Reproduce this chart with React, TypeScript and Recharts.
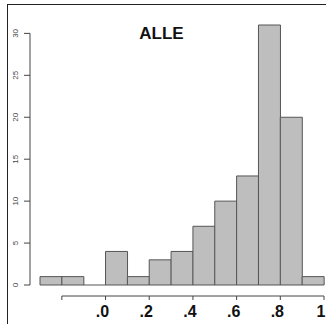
import React from "react";
import { Bar, BarChart, Rectangle, XAxis, YAxis } from "recharts";

// histogram bins (lower edges) and counts
const binStarts = [-0.3, -0.2, -0.1, 0.0, 0.1, 0.2, 0.3, 0.4, 0.5, 0.6, 0.7, 0.8, 0.9];
const counts = [1, 1, 0, 4, 1, 3, 4, 7, 10, 13, 31, 20, 1];
const binWidth = 0.1;
const xTicks = [-0.2, 0, 0.2, 0.4, 0.6, 0.8, 1];
const xTickLabels = ["", ".0", ".2", ".4", ".6", ".8", "1"];
const yTicks = [0, 5, 10, 15, 20, 25, 30];
const title = "ALLE";

const data = binStarts.map((b, i) => ({ bin: b, count: counts[i] }));

const W = 326;
const H = 324;
const margin = { top: 25, right: 2, left: 0, bottom: 0 };
const yAxisWidth = 40;
const xAxisHeight = 39;
const plotW = W - margin.left - margin.right - yAxisWidth;
const plotH = H - margin.top - margin.bottom - xAxisHeight;
const yMax = 31;
const band = plotW / binStarts.length;

const same = (a: number, b: number) => Math.abs(a - b) < 1e-6;

const YTick = (props: any) => {
  const { x, y, payload } = props;
  const ax = x - 10;
  const unit = plotH / yMax;
  return (
    <g>
      <line x1={ax} x2={ax - 6} y1={y} y2={y} stroke="#444" strokeWidth={1} />
      {payload.value === yTicks[0] && (
        <line
          x1={ax}
          x2={ax}
          y1={y}
          y2={y - (yTicks[yTicks.length - 1] - yTicks[0]) * unit}
          stroke="#444"
          strokeWidth={1}
        />
      )}
      <text
        x={ax - 15}
        y={y}
        dy={3}
        transform={`rotate(-90 ${ax - 15} ${y})`}
        textAnchor="middle"
        fontSize={8}
        fill="#444"
        fontFamily="Liberation Sans, Arial, sans-serif"
      >
        {payload.value}
      </text>
    </g>
  );
};

// one tick mark + label at a bin edge, with the axis segment back to the previous tick
const EdgeTick = ({ ex, y, i }: { ex: number; y: number; i: number }) => {
  const step = i > 0 ? ((xTicks[i] - xTicks[i - 1]) / binWidth) * band : 0;
  return (
    <g>
      <line x1={ex} x2={ex} y1={y + 11} y2={y + 15} stroke="#444" strokeWidth={1} />
      {i > 0 && (
        <line x1={ex - step} x2={ex} y1={y + 11} y2={y + 11} stroke="#444" strokeWidth={1} />
      )}
      {xTickLabels[i] !== "" && (
        <text
          x={ex - 3}
          y={y + 32}
          textAnchor="middle"
          fontSize={16}
          fontWeight="bold"
          fill="#111"
          fontFamily="Liberation Sans, Arial, sans-serif"
        >
          {xTickLabels[i]}
        </text>
      )}
    </g>
  );
};

const XTick = (props: any) => {
  const { x, y, payload } = props;
  const v = Number(payload.value);
  const left = xTicks.findIndex((t) => same(t, v));
  const right = xTicks.findIndex((t) => same(t, v + binWidth));
  const isLast = same(v, binStarts[binStarts.length - 1]);
  return (
    <g>
      {left >= 0 && <EdgeTick ex={x - band / 2} y={y} i={left} />}
      {isLast && right >= 0 && <EdgeTick ex={x + band / 2} y={y} i={right} />}
    </g>
  );
};

// empty bins are drawn as a flat line on the baseline, like R's hist()
const HistBar = (props: any) => {
  const { x, y, width, height } = props;
  if (!height) {
    return <line x1={x} x2={x + width} y1={y} y2={y} stroke="#555" strokeWidth={1} />;
  }
  return <Rectangle {...props} />;
};

export default function App() {
  return (
    <div
      style={{
        position: "absolute",
        left: 0,
        top: 0,
        width: W,
        height: H,
        background: "#fff",
        overflow: "hidden",
        fontFamily: "Liberation Sans, Arial, sans-serif",
      }}
    >
      <div
        style={{
          position: "absolute",
          left: 7,
          top: 4,
          right: 0,
          bottom: 0,
          borderTop: "1.5px solid #222",
          borderLeft: "1.5px solid #222",
        }}
      />
      <div
        style={{
          position: "absolute",
          left: 0,
          top: 25,
          width: 323,
          textAlign: "center",
          fontSize: 17,
          lineHeight: "17px",
          fontWeight: "bold",
          color: "#111",
        }}
      >
        {title}
      </div>
      <div style={{ position: "absolute", left: 0, top: 0 }}>
        <BarChart width={W} height={H} data={data} margin={margin} barCategoryGap={0}>
          <XAxis
            dataKey="bin"
            interval={0}
            height={xAxisHeight}
            axisLine={false}
            tickLine={false}
            tickSize={0}
            tickMargin={0}
            tick={<XTick />}
          />
          <YAxis
            width={yAxisWidth}
            domain={[0, yMax]}
            ticks={yTicks}
            interval={0}
            axisLine={false}
            tickLine={false}
            tickSize={0}
            tickMargin={0}
            tick={<YTick />}
          />
          <Bar
            dataKey="count"
            fill="#bebebe"
            stroke="#555"
            strokeWidth={1}
            shape={<HistBar />}
            isAnimationActive={false}
          />
        </BarChart>
      </div>
    </div>
  );
}
